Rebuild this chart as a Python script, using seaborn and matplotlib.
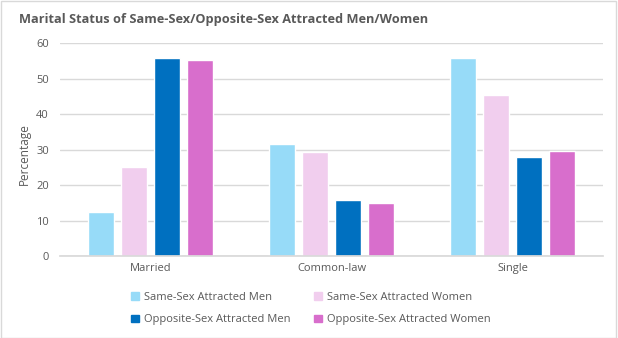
import matplotlib
matplotlib.use("Agg")
import matplotlib.pyplot as plt
import seaborn as sns
import pandas as pd
from matplotlib.patches import Rectangle

categories = ["Married", "Common-law", "Single"]
series = ["Same-Sex Attracted Men", "Same-Sex Attracted Women",
          "Opposite-Sex Attracted Men", "Opposite-Sex Attracted Women"]
same_sex_men = [12.4, 31.6, 55.9]
same_sex_women = [25.1, 29.4, 45.4]
opposite_sex_men = [55.9, 15.8, 27.9]
opposite_sex_women = [55.3, 15.0, 29.6]
yticks = [0, 10, 20, 30, 40, 50, 60]

colors = ["#97DBF8", "#F1CEEE", "#0070C0", "#D86ECC"]

rows = []
for s, vals in zip(series, [same_sex_men, same_sex_women, opposite_sex_men, opposite_sex_women]):
    for c, v in zip(categories, vals):
        rows.append({"Category": c, "Series": s, "Value": v})
df = pd.DataFrame(rows)

sns.set_theme(style="white")
plt.rcParams["font.family"] = ["Open Sans", "DejaVu Sans"]

W, H = 618, 338
fig = plt.figure(figsize=(W / 100, H / 100), dpi=100)
ax = fig.add_axes([60 / W, 1 - 256 / H, 543 / W, 212.7 / H])

sns.barplot(data=df, x="Category", y="Value", hue="Series", order=categories,
            hue_order=series, palette=colors, width=0.73, gap=0.21,
            saturation=1, ax=ax, legend=False)

ax.set_ylim(0, 60)
ax.set_xlim(-0.5, 2.5)
ax.set_yticks(yticks)
ax.set_yticklabels([str(t) for t in yticks], fontsize=8, color="#595959")
ax.tick_params(axis="x", labelsize=8, labelcolor="#595959", length=0, pad=5)
ax.tick_params(axis="y", length=0, pad=8)
ax.grid(axis="y", color="#D9D9D9", linewidth=1)
ax.set_axisbelow(True)
for sp in ["top", "right", "left"]:
    ax.spines[sp].set_visible(False)
ax.spines["bottom"].set_color("#D9D9D9")
ax.set_xlabel("")
ax.set_ylabel("")
fig.text(24 / W, 1 - 154 / H, "Percentage", rotation=90, fontsize=8.5,
         color="#595959", ha="center", va="center")

fig.text(19 / W, 1 - 20 / H, "Marital Status of Same-Sex/Opposite-Sex Attracted Men/Women",
         fontsize=9.2, fontweight="bold", color="#595959", va="center", ha="left")

handles = [Rectangle((0, 0), 1, 1, color=c) for c in colors]
# column-major ordering so rows read: SSM, SSW / OSM, OSW
order = [0, 2, 1, 3]
fig.legend([handles[i] for i in order], [series[i] for i in order],
           loc="center", bbox_to_anchor=(311 / W, 1 - 308.5 / H),
           ncol=2, frameon=False, fontsize=8, labelcolor="#595959",
           handlelength=0.7, handleheight=0.7, handletextpad=0.45,
           columnspacing=2.1, labelspacing=1.05)

fig.patches.append(Rectangle((0.5 / W, 0.5 / H), 1 - 3 / W, 1 - 1 / H,
                             transform=fig.transFigure, fill=False,
                             edgecolor="#D9D9D9", linewidth=1))

fig.savefig("out.png", dpi=100, facecolor="white")
